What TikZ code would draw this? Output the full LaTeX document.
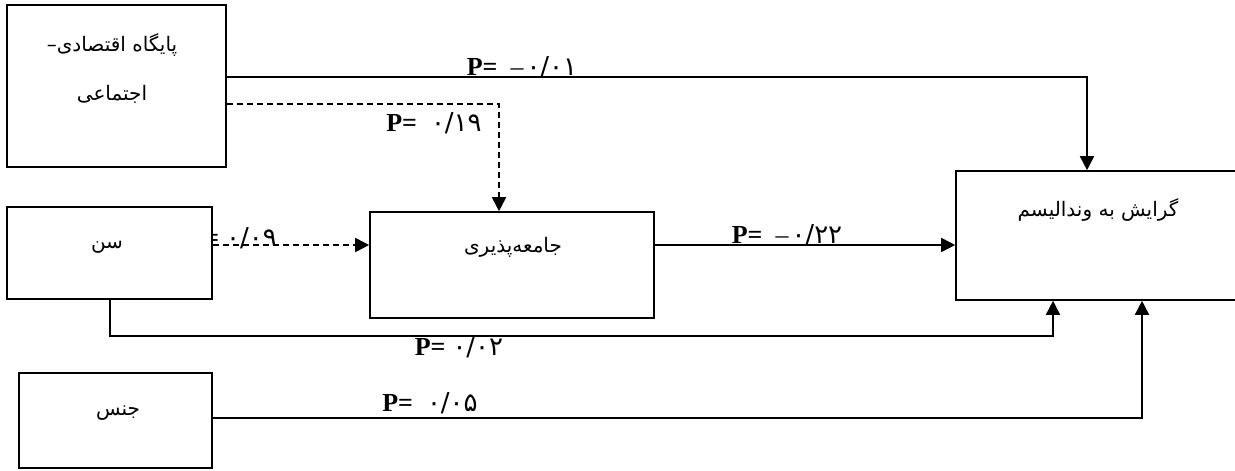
\documentclass[tikz,border=0pt]{standalone}
\usepackage{fontspec}
\setmainfont{Liberation Serif}
\newfontfamily\fafont[Script=Arabic]{DejaVu Sans}
\TeXXeTstate=1
\usetikzlibrary{arrows.meta}
\newcommand{\pval}[2]{\textbf{P=}\hspace{#1}#2}
\begin{document}
\begin{tikzpicture}[x=1pt,y=-1pt,
    box/.style={draw=black,line width=1.6pt,fill=white,inner sep=0pt},
    fatext/.style={font=\fontsize{20}{49}\selectfont\fafont,align=center},
    plabel/.style={font=\fontsize{26}{28}\selectfont,inner sep=0pt},
    solidarrow/.style={line width=1.6pt,-{Triangle[length=14pt,width=14pt]}},
    dasharrow/.style={line width=1.8pt,dash pattern=on 6pt off 4pt,-{Triangle[length=14pt,width=14pt]}}]
  \useasboundingbox (0,0) rectangle (1235,471);
  % label under the age box
  \node[plabel,anchor=east] (p-age) at (277,238) {\pval{7pt}{{\fafont ۰/۰۹}}};
  % boxes
  \node[box,minimum width=219pt,minimum height=162pt] (ses) at (116.5,86) {};
  \node[box,minimum width=205pt,minimum height=92pt] (age) at (109.5,253) {};
  \node[box,minimum width=193pt,minimum height=95pt] (gen) at (115.5,420.5) {};
  \node[box,minimum width=284pt,minimum height=106pt] (soc) at (512,265) {};
  \node[box,minimum width=284pt,minimum height=129pt] (vand) at (1098,235.5) {};
  \node[fatext] (ses-t) at (112,68.5) {\beginR پایگاه اقتصادی–\endR\\\beginR اجتماعی\endR};
  \node[fatext] (age-t) at (107,247) {\beginR سن\endR};
  \node[fatext] (gen-t) at (118,413) {\beginR جنس\endR};
  \node[fatext] (soc-t) at (513,247) {\beginR جامعه‌پذیری\endR};
  \node[fatext] (vand-t) at (1098,210) {\beginR گرایش به وندالیسم\endR};
  % bends
  \coordinate (k1) at (1087,77);
  \coordinate (k2) at (499,104);
  \coordinate (k3) at (300,245);
  \coordinate (k4) at (110,336);
  \coordinate (k5) at (1053,336);
  \coordinate (k6) at (1142,418);
  % paths
  \draw[solidarrow] (ses.east |- k1) -- (k1) -- (vand.north -| k1);
  \draw[dasharrow] (ses.east |- k2) -- (k2) -- (soc.north -| k2);
  \draw[dasharrow] (age.east |- k3) -- (soc.west |- k3);
  \draw[solidarrow] (soc.east |- k3) -- (vand.west |- k3);
  \draw[solidarrow] (age.south -| k4) -- (k4) -- (k5) -- (vand.south -| k5);
  \draw[solidarrow] (gen.east |- k6) -- (k6) -- (vand.south -| k6);
  % path labels
  \node[plabel] (p-ses) at (522,67) {\pval{13pt}{\textendash\hspace{3pt}{\fafont ۰/۰۱}}};
  \node[plabel] (p-soc) at (434,123) {\pval{14pt}{{\fafont ۰/۱۹}}};
  \node[plabel] (p-vand) at (787,235) {\pval{13pt}{\textendash\hspace{3pt}{\fafont ۰/۲۲}}};
  \node[plabel] (p-agev) at (459,347) {\pval{7pt}{{\fafont ۰/۰۲}}};
  \node[plabel] (p-gen) at (430,403) {\pval{14pt}{{\fafont ۰/۰۵}}};
\end{tikzpicture}
\end{document}
